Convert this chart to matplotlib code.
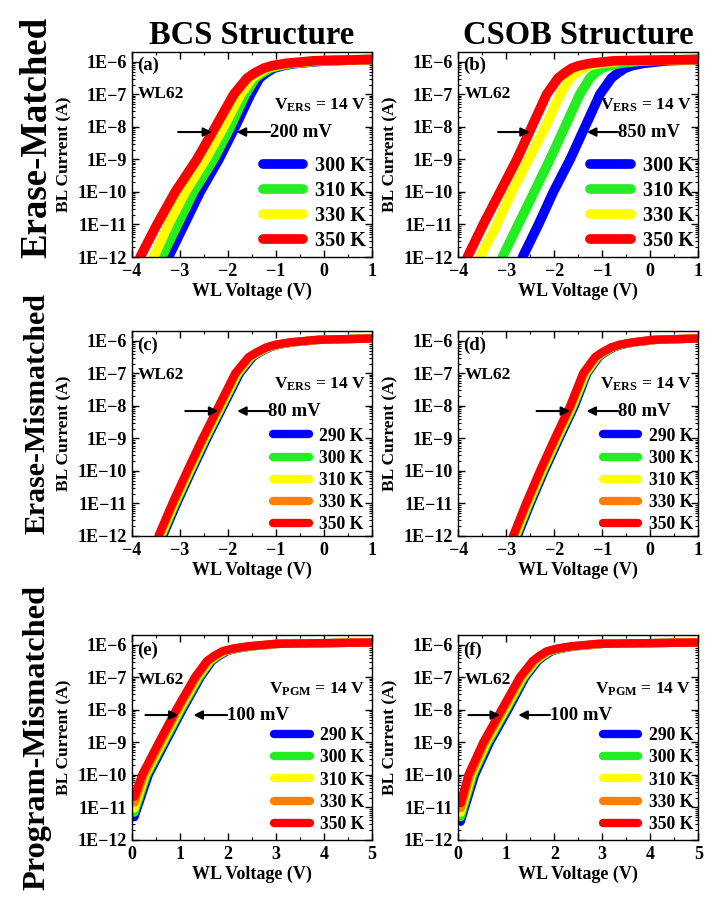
import numpy as np
import matplotlib
matplotlib.use("Agg")
import matplotlib.pyplot as plt
from matplotlib.ticker import FixedLocator, MultipleLocator, FuncFormatter, NullFormatter

plt.rcParams['font.family'] = ['Liberation Serif', 'DejaVu Serif']
plt.rcParams['font.weight'] = 'bold'
plt.rcParams['axes.labelweight'] = 'bold'
plt.rcParams['mathtext.fontset'] = 'custom'
plt.rcParams['mathtext.rm'] = 'Liberation Serif:bold'
plt.rcParams['mathtext.bf'] = 'Liberation Serif:bold'
plt.rcParams['mathtext.it'] = 'Liberation Serif:bold:italic'

# --- data ---
temps4 = ['300 K', '310 K', '330 K', '350 K']
temps5 = ['290 K', '300 K', '310 K', '330 K', '350 K']
colors4 = ['#0000ff', '#22ee22', '#ffff00', '#ff0000']
colors5 = ['#0000ff', '#22ee22', '#ffff00', '#ff8000', '#ff0000']

# erase panels: log10(I) levels and WL voltage where each curve crosses them
erase_levels = [-12, -11, -10, -9, -8, -7, -6.5, -6.35, -6.2, -6.12, -6.05, -5.97, -5.93]

bcs_em_v = [  # (a) 300, 310, 330, 350 K
    [-3.24, -2.91, -2.58, -2.19, -1.85, -1.53, -1.34, -1.21, -1.05, -0.86, -0.58, 0.05, 1.0],
    [-3.38, -3.05, -2.72, -2.30, -1.95, -1.64, -1.43, -1.29, -1.12, -0.93, -0.65, -0.05, 1.0],
    [-3.55, -3.24, -2.89, -2.47, -2.09, -1.74, -1.50, -1.36, -1.19, -1.00, -0.72, -0.12, 1.0],
    [-3.83, -3.48, -3.10, -2.65, -2.26, -1.88, -1.60, -1.45, -1.26, -1.08, -0.80, -0.20, 1.0],
]
csob_em_v = [  # (b)
    [-2.66, -2.33, -2.02, -1.67, -1.36, -1.05, -0.81, -0.68, -0.53, -0.38, -0.15, 0.35, 1.0],
    [-3.08, -2.75, -2.42, -2.09, -1.78, -1.47, -1.26, -1.15, -1.01, -0.86, -0.63, -0.15, 1.0],
    [-3.55, -3.20, -2.89, -2.54, -2.19, -1.88, -1.67, -1.55, -1.40, -1.26, -1.05, -0.55, 1.0],
    [-3.81, -3.48, -3.13, -2.78, -2.47, -2.16, -1.92, -1.79, -1.64, -1.49, -1.26, -0.75, 1.0],
]
bcs_emm_v = [  # (c) 290, 300, 310, 330, 350 K
    [-3.35, -3.06, -2.75, -2.43, -2.09, -1.75, -1.48, -1.32, -1.12, -0.93, -0.64, -0.05, 1.0],
    [-3.38, -3.09, -2.78, -2.46, -2.12, -1.78, -1.51, -1.34, -1.14, -0.95, -0.66, -0.08, 1.0],
    [-3.40, -3.11, -2.80, -2.48, -2.14, -1.80, -1.53, -1.36, -1.16, -0.97, -0.68, -0.10, 1.0],
    [-3.43, -3.14, -2.83, -2.51, -2.17, -1.83, -1.55, -1.38, -1.18, -0.99, -0.70, -0.12, 1.0],
    [-3.45, -3.16, -2.85, -2.53, -2.19, -1.85, -1.57, -1.40, -1.20, -1.01, -0.72, -0.15, 1.0],
]
csob_emm_v = [  # (d)
    [-2.76, -2.49, -2.20, -1.89, -1.57, -1.31, -1.07, -0.93, -0.75, -0.58, -0.32, 0.15, 1.0],
    [-2.79, -2.52, -2.23, -1.92, -1.60, -1.33, -1.09, -0.95, -0.77, -0.60, -0.34, 0.12, 1.0],
    [-2.81, -2.54, -2.25, -1.94, -1.62, -1.35, -1.11, -0.97, -0.79, -0.62, -0.36, 0.10, 1.0],
    [-2.84, -2.57, -2.28, -1.97, -1.65, -1.38, -1.13, -0.98, -0.80, -0.63, -0.37, 0.08, 1.0],
    [-2.86, -2.59, -2.30, -1.99, -1.67, -1.40, -1.15, -1.00, -0.81, -0.64, -0.38, 0.05, 1.0],
]

# program panels: first point at WL = 0.05 V, then crossings of the levels
pgm_levels = [-10, -9, -8, -7, -6.5, -6.35, -6.2, -6.12, -6.05, -5.97, -5.93]
pgm_start_v = 0.05

bcs_pm_start = [-11.30, -11.16, -11.03, -10.85, -10.67]  # (e) 290..350 K
bcs_pm_v = [
    [0.35, 0.70, 1.055, 1.43, 1.67, 1.81, 1.98, 2.19, 2.50, 3.10, 5.0],
    [0.31, 0.665, 1.02, 1.40, 1.64, 1.78, 1.95, 2.16, 2.47, 3.05, 5.0],
    [0.28, 0.635, 0.99, 1.37, 1.62, 1.76, 1.93, 2.14, 2.45, 3.05, 5.0],
    [0.25, 0.60, 0.955, 1.34, 1.59, 1.73, 1.90, 2.11, 2.42, 3.00, 5.0],
    [0.21, 0.56, 0.92, 1.31, 1.56, 1.70, 1.88, 2.09, 2.40, 3.00, 5.0],
]
csob_pm_start = [-11.44, -11.30, -11.16, -11.02, -10.87]  # (f)
csob_pm_v = [
    [0.35, 0.66, 1.04, 1.40, 1.66, 1.79, 1.95, 2.15, 2.44, 3.05, 5.0],
    [0.31, 0.62, 1.00, 1.37, 1.63, 1.76, 1.92, 2.12, 2.41, 3.00, 5.0],
    [0.28, 0.59, 0.97, 1.34, 1.61, 1.74, 1.89, 2.09, 2.39, 3.00, 5.0],
    [0.25, 0.555, 0.935, 1.31, 1.58, 1.71, 1.87, 2.07, 2.36, 2.95, 5.0],
    [0.21, 0.52, 0.90, 1.28, 1.55, 1.68, 1.84, 2.04, 2.33, 2.90, 5.0],
]

W, H = 720, 907
fig = plt.figure(figsize=(W / 100, H / 100), dpi=100)
lefts = [132, 458.3]
tops = [52, 331, 635]
AW, AH = 240, 205
arrow_y = 10 ** -8.16


def make_axes(col, row, xlim):
    ax = fig.add_axes([lefts[col] / W, 1 - (tops[row] + AH) / H, AW / W, AH / H])
    ax.set_yscale('log')
    ax.set_xlim(*xlim)
    ax.set_ylim(1e-12, 10 ** -5.7)
    ax.xaxis.set_major_locator(MultipleLocator(1))
    ax.xaxis.set_minor_locator(MultipleLocator(0.5))
    ax.yaxis.set_major_locator(FixedLocator(10.0 ** np.arange(-12, -5)))
    minors = [m * 10.0 ** e for e in range(-12, -6) for m in range(2, 10)]
    ax.yaxis.set_minor_locator(FixedLocator(minors))
    ax.yaxis.set_major_formatter(FuncFormatter(lambda v, p: '1E\u2212%d' % round(-np.log10(v))))
    ax.yaxis.set_minor_formatter(NullFormatter())
    ax.tick_params(which='both', direction='in', top=True, right=True, labelsize=13)
    ax.tick_params(which='major', length=5, width=1, pad=4)
    ax.tick_params(which='minor', length=2.5, width=0.8)
    for s in ax.spines.values():
        s.set_linewidth(1)
    ax.set_xlabel('WL Voltage (V)', fontsize=13)
    ax.xaxis.set_label_coords(0.5, -0.125)
    ax.set_ylabel('BL Current (A)', fontsize=12.5)
    ax.yaxis.set_label_coords(-0.25, 0.5)
    return ax


def decorate(ax, tag, vtext, vy, left_arrow, right_arrow, mv, lbl_y):
    ax.text(0.02, lbl_y[0], tag, transform=ax.transAxes, fontsize=13.5, va='center', ha='left')
    ax.text(0.025, lbl_y[1], 'WL62', transform=ax.transAxes, fontsize=12.5, va='center', ha='left')
    ax.text(0.972, vy, vtext, transform=ax.transAxes, fontsize=12.5, va='baseline', ha='right')
    ap = dict(arrowstyle='-|>', color='k', lw=1.5, mutation_scale=13, shrinkA=0, shrinkB=0)
    ax.annotate('', xy=(left_arrow[1], arrow_y), xytext=(left_arrow[0], arrow_y), arrowprops=ap)
    ax.annotate('', xy=(right_arrow[1], arrow_y), xytext=(right_arrow[0], arrow_y), arrowprops=ap)
    ax.text(right_arrow[0], arrow_y, mv, fontsize=13.5, va='center', ha='left')


def legend(ax, fs, anchor, spacing):
    ax.legend(loc='lower right', bbox_to_anchor=anchor, frameon=False, fontsize=fs,
              handlelength=2.0, handletextpad=0.6, labelspacing=spacing,
              borderpad=0, borderaxespad=0)


ers = r'$\mathrm{V}_{\mathrm{ERS}}$ = 14 V'
pgm = r'$\mathrm{V}_{\mathrm{PGM}}$ = 14 V'

# (a)
ax = make_axes(0, 0, (-4, 1))
for v, c, t in zip(bcs_em_v, colors4, temps4):
    ax.plot(v, 10.0 ** np.array(erase_levels), color=c, lw=7, solid_capstyle='round', label=t)
legend(ax, 14.5, (0.975, 0.03), 0.25)
decorate(ax, '(a)', ers, 0.717, (-3.04, -2.33), (-1.125, -1.82), '200 mV', (0.937, 0.795))

# (b)
ax = make_axes(1, 0, (-4, 1))
for v, c, t in zip(csob_em_v, colors4, temps4):
    ax.plot(v, 10.0 ** np.array(erase_levels), color=c, lw=7, solid_capstyle='round', label=t)
legend(ax, 14.5, (0.98, 0.03), 0.25)
decorate(ax, '(b)', ers, 0.717, (-3.17, -2.51), (-0.67, -1.32), '850 mV', (0.937, 0.795))

# (c)
ax = make_axes(0, 1, (-4, 1))
for v, c, t in zip(bcs_emm_v, colors5, temps5):
    ax.plot(v, 10.0 ** np.array(erase_levels), color=c, lw=6, solid_capstyle='round', label=t)
legend(ax, 12.7, (0.965, 0.014), 0.29)
decorate(ax, '(c)', ers, 0.72, (-2.89, -2.20), (-1.16, -1.81), '80 mV', (0.932, 0.785))

# (d)
ax = make_axes(1, 1, (-4, 1))
for v, c, t in zip(csob_emm_v, colors5, temps5):
    ax.plot(v, 10.0 ** np.array(erase_levels), color=c, lw=6, solid_capstyle='round', label=t)
legend(ax, 12.7, (0.978, 0.014), 0.29)
decorate(ax, '(d)', ers, 0.72, (-2.37, -1.67), (-0.67, -1.33), '80 mV', (0.932, 0.785))

# (e)
ax = make_axes(0, 2, (0, 5))
for s, v, c, t in zip(bcs_pm_start, bcs_pm_v, colors5, temps5):
    ax.plot([pgm_start_v] + v, 10.0 ** np.array([s] + pgm_levels), color=c, lw=6,
            solid_capstyle='round', label=t)
legend(ax, 12.7, (0.97, 0.035), 0.29)
decorate(ax, '(e)', pgm, 0.712, (0.28, 0.97), (1.98, 1.28), '100 mV', (0.927, 0.78))

# (f)
ax = make_axes(1, 2, (0, 5))
for s, v, c, t in zip(csob_pm_start, csob_pm_v, colors5, temps5):
    ax.plot([pgm_start_v] + v, 10.0 ** np.array([s] + pgm_levels), color=c, lw=6,
            solid_capstyle='round', label=t)
legend(ax, 12.7, (0.978, 0.035), 0.29)
decorate(ax, '(f)', pgm, 0.712, (0.21, 0.87), (1.91, 1.25), '100 mV', (0.927, 0.78))

# column titles and row labels
fig.text(252 / W, 1 - 44 / H, 'BCS Structure', fontsize=23.5, ha='center', va='baseline')
fig.text(578 / W, 1 - 44 / H, 'CSOB Structure', fontsize=23.5, ha='center', va='baseline')
fig.text(37 / W, 1 - 137 / H, 'Erase-Matched', fontsize=26.5, rotation=90, ha='center', va='center')
fig.text(37 / W, 1 - 414 / H, 'Erase-Mismatched', fontsize=21.5, rotation=90, ha='center', va='center')
fig.text(37 / W, 1 - 737 / H, 'Program-Mismatched', fontsize=23.3, rotation=90, ha='center', va='center')

fig.savefig('out.png', dpi=100)
